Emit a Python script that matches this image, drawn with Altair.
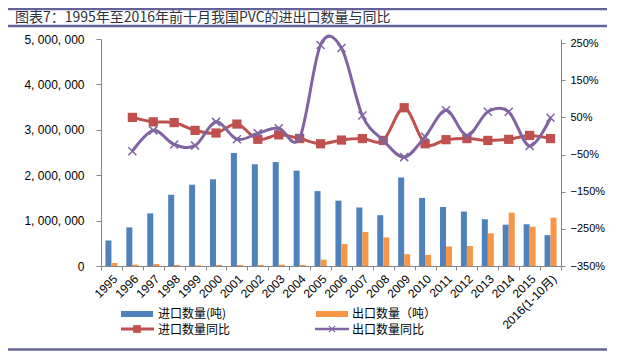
import altair as alt
import pandas as pd

# ---------------- data ----------------
years = ["1995", "1996", "1997", "1998", "1999", "2000", "2001", "2002", "2003",
         "2004", "2005", "2006", "2007", "2008", "2009", "2010", "2011", "2012",
         "2013", "2014", "2015", "2016(1-10月)"]

import_qty = [560000, 850000, 1160000, 1570000, 1790000, 1910000, 2490000, 2240000,
              2290000, 2100000, 1650000, 1440000, 1290000, 1120000, 1950000, 1500000,
              1300000, 1200000, 1030000, 910000, 920000, 680000]
export_qty = [66000, 30000, 44000, 22000, 15000, 22000, 22000, 22000, 30000, 22000,
              140000, 485000, 750000, 630000, 260000, 245000, 430000, 440000, 720000,
              1175000, 865000, 1065000]
import_yoy = [None, 50, 38, 36, 15, 8, 32, -9, 3, -7, -21, -11, -7, -12, 76, -21,
              -10, -7, -12, -9, 1.5, -7]
export_yoy = [None, -41, 15, -23, -26, 38, -9, 7, 21, -5, 245, 237, 55, -12, -57, -2,
              69, 1.5, 65, 65, -27, 49]

imp_label = "进口数量(吨)"
exp_label = "出口数量（吨）"
imp_yoy_label = "进口数量同比"
exp_yoy_label = "出口数量同比"
series_names = [imp_label, exp_label, imp_yoy_label, exp_yoy_label]
series_colors = ["#4F81BD", "#F79646", "#C0504D", "#8064A2"]

title_text = "图表7：1995年至2016年前十月我国PVC的进出口数量与同比"

left_ticks = [0, 1000000, 2000000, 3000000, 4000000, 5000000]
right_ticks = [-350, -250, -150, -50, 50, 150, 250]

# ---------------- tables ----------------
bars_df = pd.DataFrame({
    "year": years * 2,
    "series": [imp_label] * len(years) + [exp_label] * len(years),
    "qty": import_qty + export_qty,
})
imp_df = pd.DataFrame({"year": years, "pct": import_yoy}).dropna()
exp_df = pd.DataFrame({"year": years, "pct": export_yoy}).dropna()

# ---------------- styles ----------------
AX = "#868686"
LINE_COL = "#63639A"
BLUE, ORANGE, RED, PURPLE = series_colors
LATIN = "'Liberation Sans', 'Noto Sans CJK SC'"
CJK = "'Noto Sans CJK SC'"
XMARK = "M-1,-1L1,1M-1,1L1,-1"

color_scale = alt.Scale(domain=series_names, range=series_colors)

x_enc = alt.X(
    "year:N",
    scale=alt.Scale(domain=years, paddingInner=0, paddingOuter=0),
    axis=alt.Axis(title=None, labelAngle=-45, tickBand="extent", tickSize=4,
                  domainColor=AX, tickColor=AX, labelColor="#000000",
                  labelFont=LATIN, labelFontSize=12, labelPadding=3,
                  labelOverlap=False),
)

y_left = alt.Y(
    "qty:Q",
    scale=alt.Scale(domain=[0, 5000000], nice=False),
    axis=alt.Axis(title=None, values=left_ticks, grid=False, tickSize=5,
                  labelPadding=12, domainColor=AX, tickColor=AX,
                  labelColor="#000000", labelFont=LATIN, labelFontSize=12,
                  labelExpr="datum.value == 0 ? '0' : format(datum.value / 1000000, 'd') + ', 000, 000'"),
)

y_right = alt.Y(
    "pct:Q",
    scale=alt.Scale(domain=[-350, 261], nice=False, zero=False),
    axis=alt.Axis(title=None, orient="right", values=right_ticks, grid=False,
                  tickSize=4, labelPadding=5, domainColor=AX, tickColor=AX,
                  labelColor="#000000", labelFont=LATIN, labelFontSize=11,
                  labelExpr="format(datum.value, 'd') + '%'"),
)

bars = alt.Chart(bars_df).mark_bar().encode(
    x=x_enc,
    xOffset=alt.XOffset("series:N", scale=alt.Scale(domain=[imp_label, exp_label],
                                                     paddingInner=0, paddingOuter=0.74)),
    y=y_left,
    color=alt.Color("series:N", scale=color_scale, legend=None),
)

imp_line = alt.Chart(imp_df).mark_line(interpolate="cardinal", color=RED,
                                       strokeWidth=3).encode(x=x_enc, y=y_right)
imp_pts = alt.Chart(imp_df).mark_point(shape="square", filled=True, size=85,
                                       color=RED, opacity=1).encode(x=x_enc, y=y_right)
exp_line = alt.Chart(exp_df).mark_line(interpolate="cardinal", color=PURPLE,
                                       strokeWidth=3).encode(x=x_enc, y=y_right)
exp_pts = alt.Chart(exp_df).mark_point(shape=XMARK, filled=False, size=64,
                                       strokeWidth=1.5, color=PURPLE,
                                       opacity=1).encode(x=x_enc, y=y_right)

lines = alt.layer(imp_line, imp_pts, exp_line, exp_pts)

# ---------------- decorations: rules, title, legend ----------------
deco = alt.Chart(alt.Data(values=[{"k": 1}]))


def hrule(y, w):
    return deco.mark_rule(color=LINE_COL, strokeWidth=w).encode(
        x=alt.value(-93), x2=alt.value(506), y=alt.value(y))


title = deco.mark_text(align="left", baseline="middle", font=CJK, fontSize=14,
                       color="#2E3340").encode(
    x=alt.value(-86), y=alt.value(-21), text=alt.value(title_text))


def legend_text(x, y, label):
    return deco.mark_text(align="left", baseline="middle", font=CJK, fontSize=12,
                          color="#000000").encode(
        x=alt.value(x), y=alt.value(y), text=alt.value(label))


leg_items = [
    deco.mark_rect(color=BLUE).encode(x=alt.value(20), x2=alt.value(52),
                                      y=alt.value(272), y2=alt.value(278)),
    legend_text(57, 274.5, series_names[0]),
    deco.mark_rect(color=ORANGE).encode(x=alt.value(215), x2=alt.value(247),
                                        y=alt.value(272), y2=alt.value(278)),
    legend_text(251, 274.5, series_names[1]),
    deco.mark_rule(color=RED, strokeWidth=3).encode(x=alt.value(20), x2=alt.value(53),
                                                    y=alt.value(290)),
    deco.mark_point(shape="square", filled=True, size=60, color=RED, opacity=1).encode(
        x=alt.value(36), y=alt.value(290)),
    legend_text(57, 290.5, series_names[2]),
    deco.mark_rule(color=PURPLE, strokeWidth=2.5).encode(x=alt.value(214), x2=alt.value(248),
                                                         y=alt.value(290)),
    deco.mark_point(shape=XMARK, filled=False, size=40, strokeWidth=1.2, color=PURPLE,
                    opacity=1).encode(x=alt.value(231), y=alt.value(290)),
    legend_text(251, 290.5, series_names[3]),
]

chart = alt.layer(
    bars, lines, hrule(-30, 2.5), hrule(-13, 2.5), hrule(310.5, 2.5), title, *leg_items
).resolve_scale(
    y="independent"
).properties(
    width=460, height=227,
    autosize=alt.AutoSizeParams(type="none"),
    padding={"left": 93, "top": 31, "right": 46, "bottom": 88},
).configure_view(stroke=None)

chart.save("out.html", embed_options={"renderer": "svg", "actions": False})
